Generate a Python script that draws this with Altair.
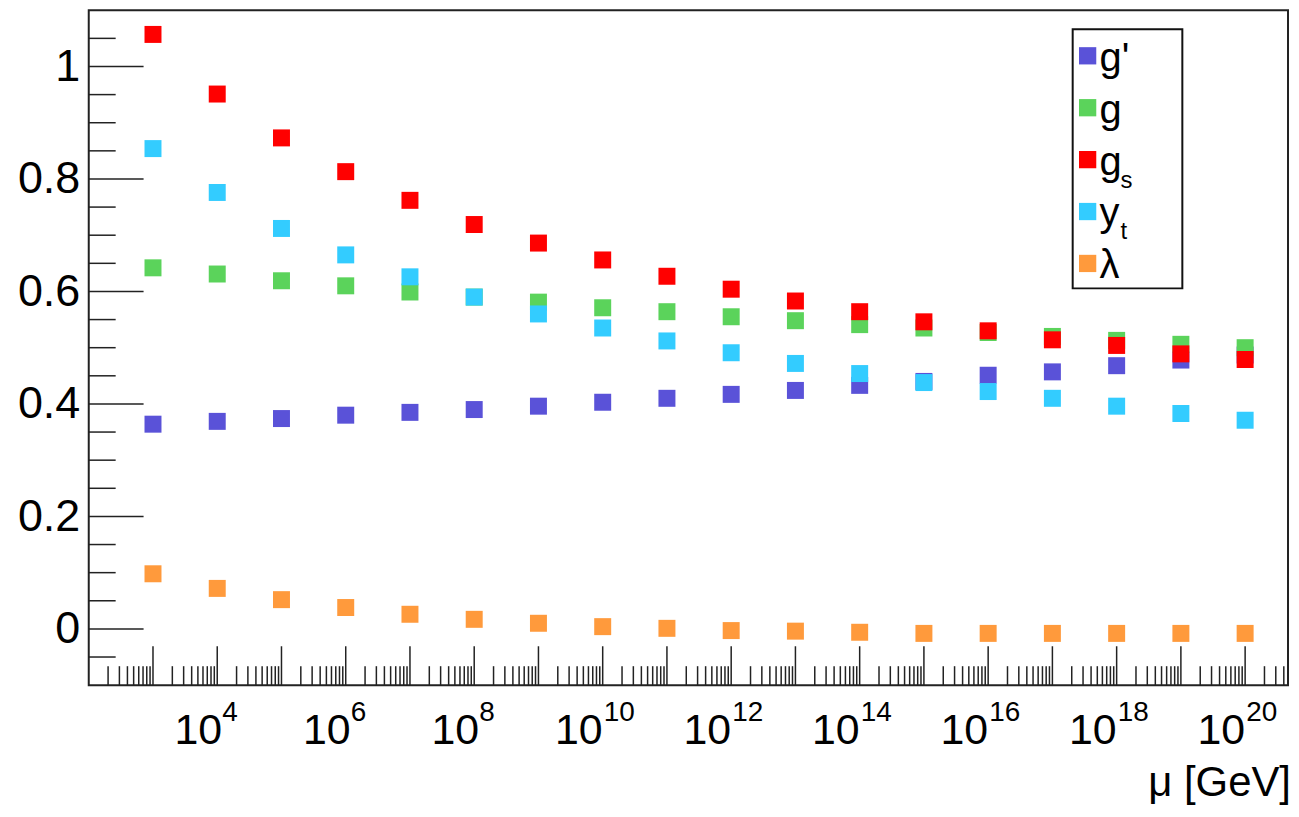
import altair as alt
import pandas as pd

# ---------------- data ----------------
exponents = list(range(3, 21))          # mu = 10^3 ... 10^20 GeV
series = ["g'", "g", "gs", "yt", "lambda"]
colors = ["#5a52d8", "#5bd35b", "#ff0000", "#33ccff", "#ff9a3c"]

g_prime = [0.364, 0.369, 0.374, 0.380, 0.385, 0.390, 0.396, 0.403, 0.410,
           0.417, 0.424, 0.433, 0.440, 0.451, 0.457, 0.468, 0.478, 0.487]
g_weak = [0.642, 0.631, 0.619, 0.610, 0.599, 0.590, 0.581, 0.571, 0.564,
          0.555, 0.548, 0.541, 0.535, 0.527, 0.520, 0.513, 0.506, 0.500]
g_s = [1.057, 0.951, 0.873, 0.813, 0.762, 0.719, 0.686, 0.656, 0.627,
       0.604, 0.583, 0.564, 0.546, 0.530, 0.514, 0.504, 0.489, 0.479]
y_t = [0.854, 0.776, 0.712, 0.665, 0.626, 0.590, 0.560, 0.535, 0.512,
       0.491, 0.472, 0.454, 0.438, 0.422, 0.410, 0.396, 0.383, 0.371]
lam = [0.098, 0.072, 0.052, 0.038, 0.026, 0.017, 0.010, 0.004, 0.001,
       -0.003, -0.004, -0.006, -0.008, -0.008, -0.008, -0.008, -0.008, -0.008]

legend_main = ["g'", "g", "g", "y", "λ"]
legend_sub = ["", "", "s", "t", ""]

y_major = [0, 0.2, 0.4, 0.6, 0.8, 1.0]
y_minor = [-0.05, 0.05, 0.1, 0.15, 0.25, 0.3, 0.35, 0.45, 0.5, 0.55,
           0.65, 0.7, 0.75, 0.85, 0.9, 0.95, 1.05]
x_major_exp = list(range(3, 21))
x_label_exp = [4, 6, 8, 10, 12, 14, 16, 18, 20]
x_minor_mult = [2, 3, 4, 5, 6, 7, 8, 9]
x_minor_exp = list(range(2, 21))
x_min, x_max = 1e2, 4.65e20
x_title = "μ [GeV]"

# ---------------- tables ----------------
values_by_series = [g_prime, g_weak, g_s, y_t, lam]
rows = []
for name, vals in zip(series, values_by_series):
    for e, v in zip(exponents, vals):
        rows.append({"series": name, "mu": 10.0 ** e, "value": v})
df = pd.DataFrame(rows)

x_major_df = pd.DataFrame({"v": [10.0 ** e for e in x_major_exp]})
x_minor_df = pd.DataFrame({"v": [k * 10.0 ** e for e in x_minor_exp for k in x_minor_mult
                                 if k * 10.0 ** e <= x_max]})
x_lab_df = pd.DataFrame({"v": [10.0 ** e for e in x_label_exp],
                         "base": ["10"] * len(x_label_exp),
                         "exp": [str(e) for e in x_label_exp],
                         "nd": [len(str(e)) for e in x_label_exp]})
y_major_df = pd.DataFrame({"v": y_major})
y_minor_df = pd.DataFrame({"v": y_minor})
leg_df = pd.DataFrame({"series": series, "main": legend_main, "sub": legend_sub})
one = pd.DataFrame({"t": [x_title]})

W, H = 1203, 677
FONT = "Liberation Sans"
TICK = "#222222"

xscale = alt.Scale(type="log", domain=[x_min, x_max], nice=False)
yscale = alt.Scale(domain=[-0.1, 1.1], nice=False, zero=False)
cscale = alt.Scale(domain=series, range=colors)

points = alt.Chart(df).mark_square(size=290, opacity=1).encode(
    x=alt.X("mu:Q", scale=xscale, axis=None),
    y=alt.Y("value:Q", scale=yscale,
            axis=alt.Axis(values=y_major, format="~g", ticks=False, tickSize=0,
                          domain=False, grid=False, labelFontSize=45,
                          labelFont=FONT, labelColor="black", labelPadding=9,
                          title=None)),
    color=alt.Color("series:N", scale=cscale, legend=None),
)

y_major_ticks = alt.Chart(y_major_df).mark_rule(color=TICK, strokeWidth=1.5).encode(
    y=alt.Y("v:Q", scale=yscale, axis=None), x=alt.value(0), x2=alt.value(55))
y_minor_ticks = alt.Chart(y_minor_df).mark_rule(color=TICK, strokeWidth=1.5).encode(
    y=alt.Y("v:Q", scale=yscale, axis=None), x=alt.value(0), x2=alt.value(27))
x_major_ticks = alt.Chart(x_major_df).mark_rule(color=TICK, strokeWidth=1.5).encode(
    x=alt.X("v:Q", scale=xscale, axis=None), y=alt.value(H), y2=alt.value(H - 39))
x_minor_ticks = alt.Chart(x_minor_df).mark_rule(color=TICK, strokeWidth=1.5).encode(
    x=alt.X("v:Q", scale=xscale, axis=None), y=alt.value(H), y2=alt.value(H - 19))


def xlabel_layers(nd, base_dx, exp_dx):
    src = alt.Chart(x_lab_df).transform_filter(alt.datum.nd == nd)
    b = src.mark_text(align="right", baseline="alphabetic", fontSize=43, font=FONT,
                      color="black", dx=base_dx).encode(
        x=alt.X("v:Q", scale=xscale, axis=None), y=alt.value(736), text="base:N")
    e = src.mark_text(align="left", baseline="alphabetic", fontSize=28, font=FONT,
                      color="black", dx=exp_dx).encode(
        x=alt.X("v:Q", scale=xscale, axis=None), y=alt.value(713), text="exp:N")
    return [b, e]


xlabels = xlabel_layers(1, 5, 5) + xlabel_layers(2, 0, 1)

title = alt.Chart(one).mark_text(
    align="right", baseline="alphabetic", fontSize=42, font=FONT, color="black"
).encode(x=alt.value(1206), y=alt.value(788), text="t:N")

leg_y = alt.Y("series:N", scale=alt.Scale(type="point", domain=series,
                                          range=[45.7, 254], padding=0), axis=None)
leg_box = alt.Chart(one).mark_rect(fill="white", stroke="#111111", strokeWidth=2).encode(
    x=alt.value(987), x2=alt.value(1097), y=alt.value(19), y2=alt.value(279))
leg_sq = alt.Chart(leg_df).mark_square(size=300, opacity=1).encode(
    x=alt.value(1002), y=leg_y,
    color=alt.Color("series:N", scale=cscale, legend=None))
leg_txt = alt.Chart(leg_df).mark_text(
    align="left", baseline="alphabetic", fontSize=40, font=FONT, color="black", dy=15
).encode(x=alt.value(1014), y=leg_y, text="main:N")
leg_sub = alt.Chart(leg_df).mark_text(
    align="left", baseline="alphabetic", fontSize=24, font=FONT, color="black", dy=28
).encode(x=alt.value(1035), y=leg_y, text="sub:N")

chart = alt.layer(
    points, y_major_ticks, y_minor_ticks, x_major_ticks, x_minor_ticks,
    *xlabels, title, leg_box, leg_sq, leg_txt, leg_sub
).resolve_scale(y="independent").properties(
    width=W, height=H,
    autosize=alt.AutoSizeParams(type="none"),
    padding={"left": 81, "top": 1, "right": 3, "bottom": 122},
).configure_view(stroke="#222222", strokeWidth=2)

chart.save("out.html", embed_options={"renderer": "svg", "actions": False})
